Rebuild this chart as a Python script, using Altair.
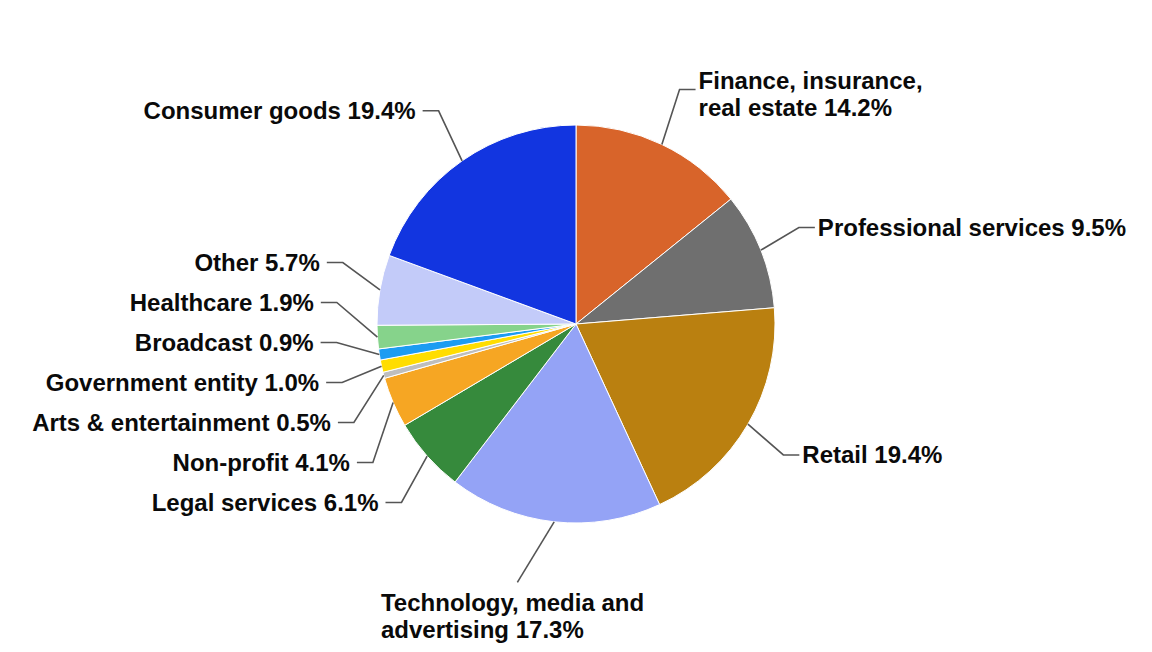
import math
import altair as alt
import pandas as pd

# ---------------- data ----------------
categories = [
    "Finance, insurance, real estate", "Professional services", "Retail",
    "Technology, media and advertising", "Legal services", "Non-profit",
    "Arts & entertainment", "Government entity", "Broadcast", "Healthcare",
    "Other", "Consumer goods",
]
label_lines = [
    "Finance, insurance,\nreal estate", "Professional services", "Retail",
    "Technology, media and\nadvertising", "Legal services", "Non-profit",
    "Arts & entertainment", "Government entity", "Broadcast", "Healthcare",
    "Other", "Consumer goods",
]
shares = [14.2, 9.5, 19.4, 17.3, 6.1, 4.1, 0.5, 1.0, 0.9, 1.9, 5.7, 19.4]

# ---------------- style / layout ----------------
colors = ["#D8642A", "#6F6F6F", "#BA8010", "#94A3F6", "#368A3C", "#F6A623",
          "#BEBEBE", "#FFDD00", "#1C9CF2", "#86D38B", "#C3CBF9", "#1235E0"]
W, H = 1136, 636
R = 199            # pie radius
RX, RY = 240, 260  # ellipse for label anchors
R_BOTTOM = 265
PITCH = 40
LINE_H = 27
SEG = 16
FONT_SIZE = 24

# approximate advance widths (per 1000 em) of a bold Arial-metric font
_W = {c: 556 for c in "abcdeghjknopqsuvxyz0123456789"}
_W.update({"f": 333, "i": 278, "l": 278, "r": 389, "t": 333, "m": 889, "w": 778,
           " ": 278, ",": 278, ".": 278, "%": 889, "&": 722, "-": 333,
           "T": 611, "F": 611, "P": 667, "R": 722, "L": 611, "N": 722,
           "A": 722, "G": 778, "B": 722, "H": 722, "O": 778, "C": 722})
for ch in "bdghnopqu":
    _W[ch] = 611


def text_width(s):
    return max(sum(_W.get(ch, 600) for ch in line) for line in s.split("\n")) * FONT_SIZE / 1000


xs = alt.Scale(domain=[-W / 2, W / 2], nice=False, zero=False)
ys = alt.Scale(domain=[-316, H - 316], nice=False, zero=False, reverse=True)

total = sum(shares)
items = []
cum = 0.0
for i, (cat, lab, v) in enumerate(zip(categories, label_lines, shares)):
    a0 = cum / total * 2 * math.pi
    cum += v
    a1 = cum / total * 2 * math.pi
    mid = (a0 + a1) / 2
    s, c = math.sin(mid), math.cos(mid)
    nlines = lab.count("\n") + 1
    side = "bottom" if (abs(s) < 0.25 and c < 0) else ("right" if s >= 0 else "left")
    items.append(dict(idx=i, category=cat, label=f"{lab} {v:.1f}%", share=v,
                      s=s, c=c, n=nlines, side=side, t=-RY * c,
                      h=PITCH + LINE_H * (nlines - 1)))


def spread(group_items):
    group_items = sorted(group_items, key=lambda d: d["t"])
    groups = [[it] for it in group_items]

    def place(g):
        offs = [0.0]
        for a, b in zip(g[:-1], g[1:]):
            offs.append(offs[-1] + (a["h"] + b["h"]) / 2)
        start = sum(it["t"] - o for it, o in zip(g, offs)) / len(g)
        for it, o in zip(g, offs):
            it["p"] = start + o

    for g in groups:
        place(g)
    merged = True
    while merged:
        merged = False
        for k in range(len(groups) - 1):
            a, b = groups[k][-1], groups[k + 1][0]
            if a["p"] + (a["h"] + b["h"]) / 2 > b["p"]:
                groups[k] = groups[k] + groups.pop(k + 1)
                place(groups[k])
                merged = True
                break


spread([d for d in items if d["side"] == "left"])
spread([d for d in items if d["side"] == "right"])

line_rows, text_rows = [], []
for d in items:
    ex0, ey0 = R * d["s"], -R * d["c"]
    line_rows.append(dict(category=d["category"], step=0, x=ex0, y=ey0))
    if d["side"] == "bottom":
        ey = d["t"]
        sign = 1 if d["s"] >= 0 else -1
        ex = sign * math.sqrt(max(R_BOTTOM ** 2 - ey ** 2, 0))
        line_rows.append(dict(category=d["category"], step=1, x=ex, y=ey))
        # block centred under the line end, lines left-aligned inside it
        text_rows.append(dict(label=d["label"], x=ex - text_width(d["label"]) / 2 - 3,
                              y=ey + 22, align="left"))
    else:
        sign = 1 if d["side"] == "right" else -1
        ey = d["p"]
        ex = sign * RX * math.sqrt(max(1 - (ey / RY) ** 2, 0))
        line_rows.append(dict(category=d["category"], step=1, x=ex, y=ey))
        line_rows.append(dict(category=d["category"], step=2, x=ex + sign * SEG, y=ey))
        gap = 3 if sign > 0 else 7
        text_rows.append(dict(label=d["label"], x=ex + sign * (SEG + gap),
                              y=ey + 1 - (d["n"] - 1) * LINE_H * 0.3,
                              align="left" if sign > 0 else "right"))

pie_df = pd.DataFrame([{k: d[k] for k in ("idx", "category", "share")} for d in items])
lines_df = pd.DataFrame(line_rows)
text_df = pd.DataFrame(text_rows)

pie = alt.Chart(pie_df).mark_arc(outerRadius=R, stroke="white", strokeWidth=1).encode(
    theta=alt.Theta("share:Q", stack=True),
    order=alt.Order("idx:Q", sort="ascending"),
    color=alt.Color("category:N", scale=alt.Scale(domain=categories, range=colors), legend=None),
    x=alt.X(datum=0, type="quantitative", scale=xs, axis=None),
    y=alt.Y(datum=0, type="quantitative", scale=ys, axis=None),
)

leaders = alt.Chart(lines_df).mark_line(color="#555555", strokeWidth=1.6).encode(
    x=alt.X("x:Q", scale=xs, axis=None),
    y=alt.Y("y:Q", scale=ys, axis=None),
    detail="category:N",
    order="step:Q",
)

text_layers = []
for al in ["left", "right", "center"]:
    sub = text_df[text_df["align"] == al]
    if len(sub) == 0:
        continue
    text_layers.append(
        alt.Chart(sub).mark_text(
            align=al, baseline="middle", fontSize=FONT_SIZE, fontWeight="bold",
            font="Liberation Sans", color="#0A0A0A", lineBreak="\n", lineHeight=LINE_H,
        ).encode(
            x=alt.X("x:Q", scale=xs, axis=None),
            y=alt.Y("y:Q", scale=ys, axis=None),
            text="label:N",
        )
    )

chart = alt.layer(pie, leaders, *text_layers).properties(
    width=W, height=H, padding=0,
    autosize=alt.AutoSizeParams(type="none"),
).configure_view(stroke=None)

chart.save("out.html", embed_options={"renderer": "svg", "actions": False})
